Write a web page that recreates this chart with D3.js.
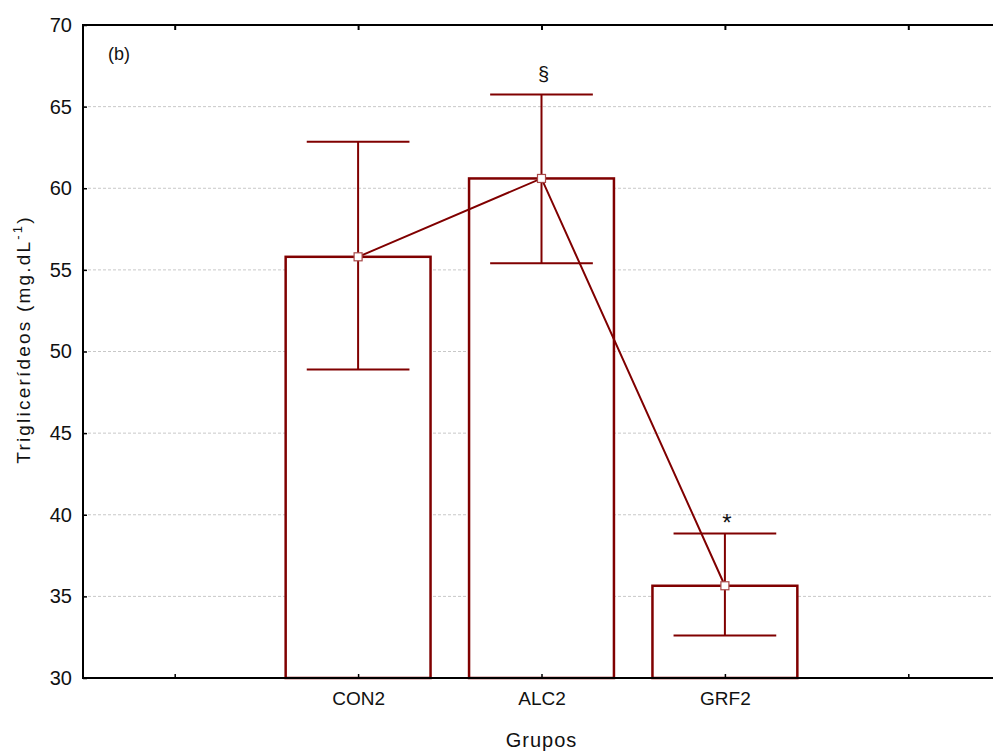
<!DOCTYPE html>
<html>
<head>
<meta charset="utf-8">
<script src="https://cdn.jsdelivr.net/npm/d3@7"></script>
<style>
  html, body { margin: 0; padding: 0; background: #fff; }
  svg { display: block; font-family: "Liberation Sans", Arial, sans-serif; }
</style>
</head>
<body>
<svg id="chart" width="993" height="753"></svg>
<script>
// Triglyceride means with error bar limits per group
const categories = ["CON2", "ALC2", "GRF2"];
const means      = [55.8, 60.6, 35.65];
const upper      = [62.85, 65.75, 38.85];
const lower      = [48.9, 55.4, 32.6];
const marks      = ["", "§", "*"];
const yTicks     = [30, 35, 40, 45, 50, 55, 60, 65, 70];
// x slots: one empty slot either side of the three groups
const slots      = ["_l", "CON2", "ALC2", "GRF2", "_r"];

const red = "#800000";
const ink = "#111";
const svg = d3.select("#chart");
const plotLeft = 83, plotTop = 25, plotBottom = 678, plotRight = 1000;

const x = d3.scalePoint().domain(slots).range([plotLeft, plotRight]).padding(0.5);
const y = d3.scaleLinear().domain([30, 70]).range([plotBottom, plotTop]);
const step = x.step();
const barW = step * 0.79;
const capW = step * 0.56;

const data = categories.map((c, i) => ({ c, m: means[i], hi: upper[i], lo: lower[i], mark: marks[i] }));

// horizontal dashed grid
svg.append("g").selectAll("line")
  .data(yTicks.filter(t => t > 30 && t < 70))
  .join("line")
  .attr("x1", plotLeft).attr("x2", 993)
  .attr("y1", d => y(d)).attr("y2", d => y(d))
  .attr("stroke", "#c8c8c8").attr("stroke-width", 1)
  .attr("stroke-dasharray", "3,2");

// bars
svg.append("g").selectAll("rect")
  .data(data).join("rect")
  .attr("x", d => x(d.c) - barW / 2)
  .attr("y", d => y(d.m))
  .attr("width", barW)
  .attr("height", d => y(30) - y(d.m))
  .attr("fill", "#fff")
  .attr("stroke", red).attr("stroke-width", 2.5);

// error bars
const eb = svg.append("g").attr("stroke", red).attr("stroke-width", 2);
eb.selectAll(".stem").data(data).join("line").attr("class", "stem")
  .attr("x1", d => x(d.c)).attr("x2", d => x(d.c))
  .attr("y1", d => y(d.hi)).attr("y2", d => y(d.lo));
eb.selectAll(".capHi").data(data).join("line").attr("class", "capHi")
  .attr("x1", d => x(d.c) - capW / 2).attr("x2", d => x(d.c) + capW / 2)
  .attr("y1", d => y(d.hi)).attr("y2", d => y(d.hi));
eb.selectAll(".capLo").data(data).join("line").attr("class", "capLo")
  .attr("x1", d => x(d.c) - capW / 2).attr("x2", d => x(d.c) + capW / 2)
  .attr("y1", d => y(d.lo)).attr("y2", d => y(d.lo));

// line joining the means
svg.append("path")
  .datum(data)
  .attr("fill", "none").attr("stroke", red).attr("stroke-width", 2)
  .attr("d", d3.line().x(d => x(d.c)).y(d => y(d.m)));

// mean markers
svg.append("g").selectAll("rect")
  .data(data).join("rect")
  .attr("x", d => x(d.c) - 4).attr("y", d => y(d.m) - 4)
  .attr("width", 8).attr("height", 8)
  .attr("fill", "#fff").attr("stroke", "#a84848").attr("stroke-width", 1.2);

// significance marks above the upper caps
svg.append("g").selectAll("text")
  .data(data.filter(d => d.mark)).join("text")
  .attr("x", d => x(d.c) + 2)
  .attr("y", d => y(d.hi) - (d.mark === "*" ? 3 : 13))
  .attr("text-anchor", "middle")
  .attr("font-size", d => d.mark === "*" ? 24 : 20)
  .attr("fill", ink)
  .text(d => d.mark);

// frame: left, top, bottom
const frame = svg.append("g").attr("stroke", "#000").attr("stroke-width", 2).attr("fill", "none");
frame.append("line").attr("x1", plotLeft).attr("x2", plotLeft).attr("y1", plotTop - 1).attr("y2", plotBottom + 1);
frame.append("line").attr("x1", plotLeft).attr("x2", 993).attr("y1", plotTop).attr("y2", plotTop);
frame.append("line").attr("x1", plotLeft).attr("x2", 993).attr("y1", plotBottom).attr("y2", plotBottom);

// y axis (ticks pointing inward)
const yAxis = svg.append("g").attr("transform", `translate(${plotLeft},0)`)
  .call(d3.axisLeft(y).tickValues(yTicks).tickSize(-4).tickPadding(11));
yAxis.select(".domain").remove();
yAxis.selectAll(".tick line").attr("stroke", "#000").attr("stroke-width", 1.5);
yAxis.selectAll("text").attr("font-size", 20).attr("fill", ink)
  .attr("font-family", "Liberation Sans, Arial, sans-serif");

// bottom x axis (ticks pointing up)
const xAxis = svg.append("g").attr("transform", `translate(0,${plotBottom})`)
  .call(d3.axisBottom(x).tickSize(-4).tickPadding(14)
    .tickFormat(d => categories.includes(d) ? d : ""));
xAxis.select(".domain").remove();
xAxis.selectAll(".tick line").attr("stroke", "#000").attr("stroke-width", 1.5);
xAxis.selectAll("text").attr("font-size", 19).attr("fill", ink)
  .attr("font-family", "Liberation Sans, Arial, sans-serif");

// top x ticks (pointing down)
const xTop = svg.append("g").attr("transform", `translate(0,${plotTop})`)
  .call(d3.axisTop(x).tickSize(-5).tickFormat(""));
xTop.select(".domain").remove();
xTop.selectAll(".tick line").attr("stroke", "#000").attr("stroke-width", 2);

// panel tag
svg.append("text").attr("x", 108).attr("y", 60)
  .attr("font-size", 18).attr("fill", ink).text("(b)");

// axis titles
svg.append("text")
  .attr("x", x("ALC2")).attr("y", 747)
  .attr("text-anchor", "middle").attr("font-size", 20)
  .attr("letter-spacing", 1).attr("fill", ink)
  .text("Grupos");

const yl = svg.append("text")
  .attr("transform", `translate(30,${(plotTop + plotBottom) / 2 - 12}) rotate(-90)`)
  .attr("text-anchor", "middle").attr("font-size", 19)
  .attr("letter-spacing", 2.2).attr("fill", ink);
yl.append("tspan").text("Triglicerídeos (mg.dL");
yl.append("tspan").attr("font-size", 13).attr("dy", -8).text("-1");
yl.append("tspan").attr("dy", 8).text(")");
</script>
</body>
</html>
